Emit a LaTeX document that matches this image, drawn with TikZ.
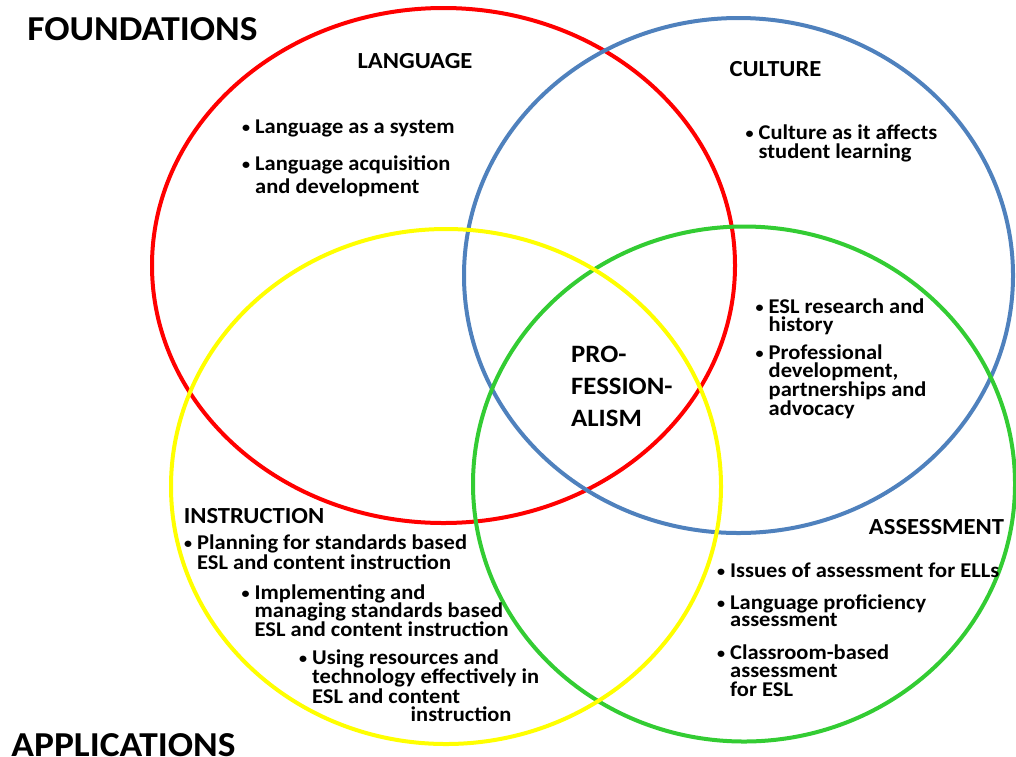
\documentclass[tikz,border=0pt]{standalone}
\usepackage{fontspec}
\setmainfont{Carlito}[FakeStretch=1.07]
\usetikzlibrary{shapes.geometric,positioning}
\definecolor{lred}{HTML}{FF0000}
\definecolor{cblue}{HTML}{4F81BD}
\definecolor{iyellow}{HTML}{FFFF00}
\definecolor{agreen}{HTML}{33CC33}
\newcommand\bul{\makebox[13pt][l]{\raisebox{1pt}{\fontsize{15}{15}\selectfont\textbullet}}}
\newcommand\ind{\hspace*{13pt}}
\tikzset{
  ring/.style={ellipse, line width=4pt, inner sep=0pt, minimum height=515pt},
  head/.style={font=\bfseries\fontsize{23}{23}\selectfont, inner sep=0pt},
  big/.style={font=\bfseries\fontsize{35}{35}\selectfont, inner sep=0pt},
  item/.style={font=\bfseries\fontsize{21}{18}\selectfont, align=left, anchor=base west, inner sep=0pt}
}
\begin{document}
\begin{tikzpicture}[x=1pt,y=-1pt]
\useasboundingbox (0,0) rectangle (1016,756);
\node (lang) [ring, draw=lred, minimum width=583pt] at (443.5,265.5) {};
\node (cult) [ring, draw=cblue, minimum width=549pt] at (738.5,275.5) {};
\node (assess) [ring, draw=agreen, minimum width=542pt] at (744,484) {};
\node (instr) [ring, draw=iyellow, minimum width=550pt] at (446,486.5) {};
\node (found) [big] at (142.5,29) {FOUNDATIONS};
\node (appl) [big] at (123.5,745) {APPLICATIONS};
\node (langh) [head] at (415,61) {LANGUAGE};
\node (culth) [head] at (775.5,69.5) {CULTURE};
\node (instrh) [head] at (254,516) {INSTRUCTION};
\node (assessh) [head] at (936.5,527) {ASSESSMENT};
\node (prof) [head, font=\bfseries\fontsize{25}{32}\selectfont, align=left, anchor=west] at (571,386) {PRO-\\FESSION-\\ALISM};
\node (lang1) [item] at (242,133) {\bul Language as a system};
\node (lang2) [item, font=\bfseries\fontsize{21}{23}\selectfont] at (242,193) {\bul Language acquisition\\\ind and development};
\node (cult1) [item, font=\bfseries\fontsize{21}{19}\selectfont] at (745.5,158) {\bul Culture as it affects\\\ind student learning};
\node (prof1) [item] at (755.5,331) {\bul ESL research and\\\ind history};
\node (prof2) [item, font=\bfseries\fontsize{21}{17.5}\selectfont] at (755.5,415.5) {\bul Professional\\\ind development,\\\ind partnerships and\\\ind advocacy};
\node (assess1) [item] at (717,577) {\bul Issues of assessment for ELLs};
\node (assess2) [item, font=\bfseries\fontsize{21}{17.5}\selectfont] at (717,626.5) {\bul Language proficiency\\\ind assessment};
\node (assess3) [item, font=\bfseries\fontsize{21}{18.5}\selectfont] at (717,696) {\bul Classroom-based\\\ind assessment\\\ind for ESL};
\node (instr1) [item] at (184,569) {\bul Planning for standards based\\\ind ESL and content instruction};
\node (instr2) [item, font=\bfseries\fontsize{21}{18.5}\selectfont] at (241.5,636) {\bul Implementing and\\\ind managing standards based\\\ind ESL and content instruction};
\node (instr3) [item] at (299,721) {\bul Using resources and\\\ind technology effectively in\\\ind ESL and content\\\hspace*{111.5pt}instruction};
\end{tikzpicture}
\end{document}
